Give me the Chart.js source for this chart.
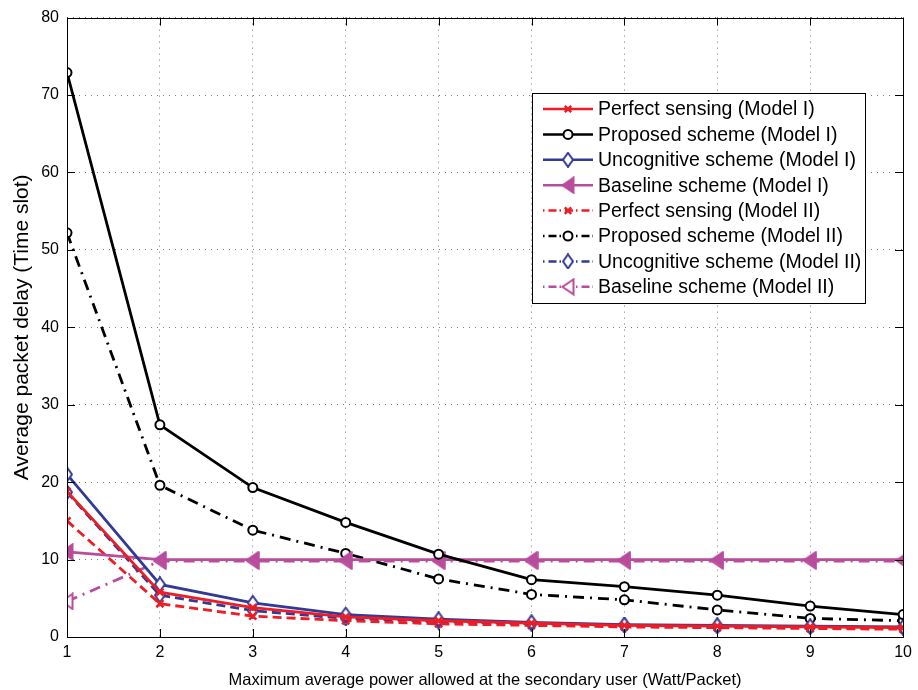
<!DOCTYPE html>
<html>
<head>
<meta charset="utf-8">
<script src="https://cdn.jsdelivr.net/npm/chart.js@4.4.0/dist/chart.umd.min.js"></script>
<style>
  body { margin: 0; background: #fff; }
  #wrap { width: 918px; height: 690px; }
</style>
</head>
<body>
<div id="wrap"><canvas id="delayChart"></canvas></div>
<script>
// x軸 (最大平均電力)
const powerLevels = [1, 2, 3, 4, 5, 6, 7, 8, 9, 10];

// 各方式の平均パケット遅延
const perfectModel1     = [18.8, 5.8, 3.8, 2.6, 2.1, 1.8, 1.5, 1.4, 1.3, 1.2];
const proposedModel1    = [72.9, 27.4, 19.3, 14.8, 10.7, 7.4, 6.5, 5.4, 4.0, 2.9];
const uncognitiveModel1 = [21.0, 6.8, 4.4, 2.9, 2.3, 1.9, 1.6, 1.5, 1.4, 1.3];
const baselineModel1    = [11.0, 10.0, 10.0, 10.0, 10.0, 10.0, 10.0, 10.0, 10.0, 10.0];
const perfectModel2     = [15.0, 4.3, 2.7, 2.1, 1.7, 1.5, 1.3, 1.2, 1.1, 1.0];
const proposedModel2    = [52.2, 19.6, 13.8, 10.8, 7.5, 5.5, 4.8, 3.5, 2.4, 2.1];
const uncognitiveModel2 = [18.7, 5.4, 3.4, 2.4, 2.0, 1.7, 1.5, 1.4, 1.3, 1.2];
const baselineModel2    = [4.6, 9.8, 9.8, 9.8, 9.8, 9.8, 9.8, 9.8, 9.8, 9.8];

const seriesNames = [
    'Perfect sensing (Model I)',
    'Proposed scheme (Model I)',
    'Uncognitive scheme (Model I)',
    'Baseline scheme (Model I)',
    'Perfect sensing (Model II)',
    'Proposed scheme (Model II)',
    'Uncognitive scheme (Model II)',
    'Baseline scheme (Model II)'
];

const RED = '#ee1c24';
const BLACK = '#000000';
const BLUE = '#333a96';
const PINK = '#b94c9c';
const FONT = '"Liberation Sans", Arial, sans-serif';

// マーカー画像 (縦長のひし形・左向き三角形)
function diamondMarker(color) {
    const c = document.createElement('canvas');
    c.width = 12; c.height = 16;
    const g = c.getContext('2d');
    g.strokeStyle = color; g.lineWidth = 2; g.fillStyle = '#fff';
    g.beginPath();
    g.moveTo(6, 1); g.lineTo(11, 8); g.lineTo(6, 15); g.lineTo(1, 8); g.closePath();
    g.fill(); g.stroke();
    return c;
}
function triangleMarker(color, filled) {
    const c = document.createElement('canvas');
    c.width = 14; c.height = 18;
    const g = c.getContext('2d');
    g.strokeStyle = color; g.lineWidth = 2; g.fillStyle = filled ? color : '#fff';
    g.beginPath();
    g.moveTo(1.5, 9); g.lineTo(12.5, 1.5); g.lineTo(12.5, 16.5); g.closePath();
    g.fill(); g.stroke();
    return c;
}

const toPts = (vals) => vals.map((v, i) => ({ x: powerLevels[i], y: v }));

function makeSet(name, vals, color, style, opts) {
    return Object.assign({
        label: name,
        data: toPts(vals),
        borderColor: color,
        backgroundColor: '#fff',
        pointBorderColor: color,
        pointBackgroundColor: '#fff',
        borderWidth: 2.8,
        pointBorderWidth: 2,
        pointRadius: 4.5,
        pointStyle: style,
        tension: 0,
        fill: false
    }, opts || {});
}

const dashDot = [11, 6, 2, 6];
const dashed = [9, 5];

const datasets = [
    makeSet(seriesNames[0], perfectModel1, RED, 'crossRot', { pointBorderWidth: 2.5, pointRadius: 5 }),
    makeSet(seriesNames[1], proposedModel1, BLACK, 'circle'),
    makeSet(seriesNames[2], uncognitiveModel1, BLUE, diamondMarker(BLUE)),
    makeSet(seriesNames[3], baselineModel1, PINK, triangleMarker(PINK, true)),
    makeSet(seriesNames[4], perfectModel2, RED, 'crossRot', { borderDash: dashed, pointBorderWidth: 2.5, pointRadius: 5 }),
    makeSet(seriesNames[5], proposedModel2, BLACK, 'circle', { borderDash: dashDot }),
    makeSet(seriesNames[6], uncognitiveModel2, BLUE, diamondMarker(BLUE), { borderDash: dashed }),
    makeSet(seriesNames[7], baselineModel2, PINK, triangleMarker(PINK, false), { borderDash: dashDot })
];

// 枠線・目盛り・凡例を描くプラグイン
const framePlugin = {
    id: 'frame',
    afterDraw(chart) {
        const { ctx, chartArea: a, scales } = chart;
        ctx.save();
        ctx.strokeStyle = '#000';
        ctx.lineWidth = 1;
        ctx.strokeRect(Math.round(a.left) + 0.5, Math.round(a.top) + 0.5,
                       Math.round(a.right - a.left), Math.round(a.bottom - a.top));

        // 内向きの目盛り
        ctx.beginPath();
        scales.x.ticks.forEach(t => {
            const px = Math.round(scales.x.getPixelForValue(t.value)) + 0.5;
            ctx.moveTo(px, a.bottom); ctx.lineTo(px, a.bottom - 8);
            ctx.moveTo(px, a.top); ctx.lineTo(px, a.top + 8);
        });
        scales.y.ticks.forEach(t => {
            const py = Math.round(scales.y.getPixelForValue(t.value)) + 0.5;
            ctx.moveTo(a.left, py); ctx.lineTo(a.left + 8, py);
            ctx.moveTo(a.right, py); ctx.lineTo(a.right - 8, py);
        });
        ctx.stroke();

        // 凡例
        const bx = 532, by = 93, bw = 333, bh = 210;
        ctx.fillStyle = '#fff';
        ctx.fillRect(bx, by, bw, bh);
        ctx.strokeRect(bx + 0.5, by + 0.5, bw, bh);
        ctx.font = '19.5px ' + FONT;
        ctx.textBaseline = 'middle';
        ctx.textAlign = 'left';
        chart.data.datasets.forEach((ds, i) => {
            const y = by + 16 + i * 25.4;
            ctx.save();
            ctx.strokeStyle = ds.borderColor;
            ctx.lineWidth = 2.5;
            ctx.setLineDash(ds.borderDash ? [1.5, 4, 8, 3] : []);
            ctx.beginPath();
            ctx.moveTo(bx + 11, y); ctx.lineTo(bx + 61, y);
            ctx.stroke();
            ctx.setLineDash([]);
            ctx.lineWidth = ds.pointBorderWidth;
            ctx.fillStyle = ds.pointBackgroundColor;
            ctx.strokeStyle = ds.pointBorderColor;
            Chart.helpers.drawPoint(ctx, {
                pointStyle: ds.pointStyle,
                rotation: 0,
                radius: 4.5,
                borderWidth: ds.pointBorderWidth
            }, bx + 36, y);
            ctx.restore();
            ctx.fillStyle = '#000';
            ctx.fillText(ds.label, bx + 66, y + 1);
        });
        ctx.restore();
    }
};

new Chart(document.getElementById('delayChart').getContext('2d'), {
    type: 'line',
    data: { datasets: datasets },
    options: {
        responsive: true,
        maintainAspectRatio: false,
        animation: false,
        layout: { padding: { top: 15, right: 12, left: 0, bottom: 0 } },
        plugins: {
            legend: { display: false },
            tooltip: { enabled: false }
        },
        scales: {
            x: {
                type: 'linear',
                min: 1,
                max: 10,
                ticks: {
                    stepSize: 1,
                    color: '#000',
                    padding: 6,
                    font: { size: 16, family: FONT }
                },
                grid: { color: '#777', drawTicks: false },
                border: { display: false, dash: [1, 5] },
                title: {
                    display: true,
                    text: 'Maximum average power allowed at the secondary user (Watt/Packet)',
                    color: '#000',
                    padding: { top: 3, bottom: 0 },
                    font: { size: 16.5, family: FONT }
                },
                afterFit(scale) { scale.height = 53; }
            },
            y: {
                min: 0,
                max: 80,
                ticks: {
                    stepSize: 10,
                    color: '#000',
                    padding: 8,
                    font: { size: 16, family: FONT }
                },
                grid: { color: '#777', drawTicks: false },
                border: { display: false, dash: [1, 5] },
                title: {
                    display: true,
                    text: 'Average packet delay (Time slot)',
                    color: '#000',
                    padding: { top: 10, bottom: 0 },
                    font: { size: 21, family: FONT }
                },
                afterFit(scale) { scale.width = 67; }
            }
        }
    },
    plugins: [framePlugin]
});
</script>
</body>
</html>
